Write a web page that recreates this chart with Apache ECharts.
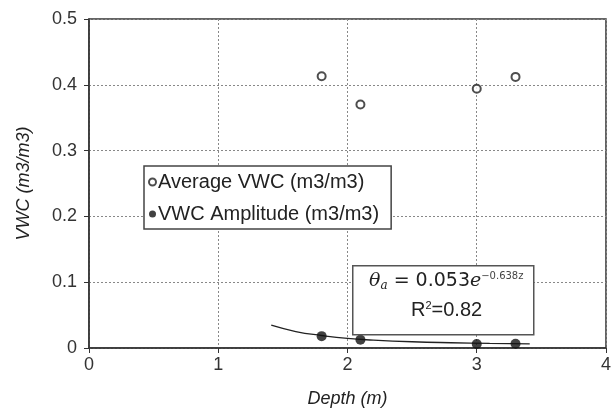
<!DOCTYPE html>
<html>
<head>
<meta charset="utf-8">
<script src="https://cdn.jsdelivr.net/npm/echarts@6/dist/echarts.min.js"></script>
<style>
  html, body { margin: 0; padding: 0; background: #fff; }
  #chart { width: 614px; height: 413px; }
</style>
</head>
<body>
<div id="chart"></div>
<script>
// Depth (m) of each sensor
const depths = [1.8, 2.1, 3.0, 3.3];
// Average volumetric water content (m3/m3)
const avgVWC = [0.413, 0.370, 0.394, 0.412];
// Amplitude of volumetric water content (m3/m3)
const ampVWC = [0.018, 0.0125, 0.006, 0.0065];
// Exponential fit curve through the amplitudes
const fitDepths = [1.41, 1.6, 1.8, 2.0, 2.2, 2.5, 2.8, 3.1, 3.41];
const fitValues = [0.0346, 0.025, 0.019, 0.0145, 0.012, 0.0095, 0.008, 0.007, 0.0063];
// Axis ticks
const xTicks = [0, 1, 2, 3, 4];
const yTicks = [0, 0.1, 0.2, 0.3, 0.4, 0.5];

const font = 'Liberation Sans, Arial, sans-serif';
const pair = (xs, ys) => xs.map((x, i) => [x, ys[i]]);

const chart = echarts.init(document.getElementById('chart'), null, { renderer: 'canvas' });
chart.setOption({
  animation: false,
  backgroundColor: '#fff',
  grid: {
    left: 89, top: 19, width: 518, height: 332,
    show: true, borderColor: '#333', borderWidth: 1.5, backgroundColor: 'transparent'
  },
  xAxis: {
    type: 'value', min: xTicks[0], max: xTicks[xTicks.length - 1], interval: 1,
    name: 'Depth (m)', nameLocation: 'middle', nameGap: 42,
    nameTextStyle: { fontFamily: font, fontSize: 18, fontStyle: 'italic', color: '#222' },
    axisLine: { lineStyle: { color: '#333', width: 1.5 } },
    axisTick: { show: true, length: 5, lineStyle: { color: '#333' } },
    axisLabel: { fontFamily: font, fontSize: 18, color: '#333', margin: 8 },
    splitLine: { show: true, lineStyle: { color: '#888', type: [2, 2], width: 1 } }
  },
  yAxis: {
    type: 'value', min: yTicks[0], max: yTicks[yTicks.length - 1], interval: 0.1,
    name: 'VWC (m3/m3)', nameLocation: 'middle', nameGap: 56,
    nameTextStyle: { fontFamily: font, fontSize: 18, fontStyle: 'italic', color: '#222' },
    axisLine: { lineStyle: { color: '#333', width: 1.5 } },
    axisTick: { show: true, length: 5, lineStyle: { color: '#333' } },
    axisLabel: { fontFamily: font, fontSize: 18, color: '#333', margin: 12,
      formatter: v => String(Math.round(v * 10) / 10) },
    splitLine: { show: true, lineStyle: { color: '#888', type: [2, 2], width: 1 } }
  },
  legend: {
    orient: 'vertical', left: 144, top: 166,
    data: ['Average VWC (m3/m3)', 'VWC Amplitude (m3/m3)'],
    backgroundColor: '#fff',
    borderColor: '#444', borderWidth: 1.5, padding: [6, 12, 5, 4],
    itemWidth: 7, itemHeight: 7, itemGap: 12, icon: 'circle',
    textStyle: { fontFamily: font, fontSize: 20, color: '#222', padding: [0, 0, 0, -3] }
  },
  series: [
    {
      name: 'Fit', type: 'line', data: pair(fitDepths, fitValues), smooth: true,
      showSymbol: false, lineStyle: { color: '#222', width: 1.3 }, z: 2, silent: true
    },
    {
      name: 'Average VWC (m3/m3)', type: 'scatter', data: pair(depths, avgVWC),
      symbol: 'circle', symbolSize: 8,
      itemStyle: { color: '#fff', borderColor: '#222', borderWidth: 2 }, z: 3
    },
    {
      name: 'VWC Amplitude (m3/m3)', type: 'scatter', data: pair(depths, ampVWC),
      symbol: 'circle', symbolSize: 10,
      itemStyle: { color: '#111' }, z: 3
    }
  ],
  graphic: [
    {
      type: 'rect', left: 352, top: 265, z: 10,
      shape: { width: 181, height: 69 },
      style: { fill: '#fff', stroke: '#555', lineWidth: 1.5 }
    },
    {
      type: 'text', left: 369, top: 271, z: 11,
      style: {
        rich: {
          th: { fontFamily: 'DejaVu Serif, serif', fontStyle: 'italic', fontSize: 19, fill: '#222' },
          sub: { fontFamily: 'DejaVu Serif, serif', fontStyle: 'italic', fontSize: 12, fill: '#222', verticalAlign: 'bottom', padding: [9, 0, 0, 0] },
          n: { fontFamily: 'DejaVu Sans, sans-serif', fontSize: 19, fill: '#222' },
          e: { fontFamily: 'DejaVu Serif, serif', fontStyle: 'italic', fontSize: 19, fill: '#222' },
          sup: { fontFamily: 'DejaVu Sans, sans-serif', fontSize: 10, fill: '#444', verticalAlign: 'top', padding: [0, 0, 11, 0] }
        },
        text: '{th|θ}{sub|a}{n| = 0.053}{e|e}{sup|−0.638z}'
      }
    },
    {
      type: 'text', left: 411, top: 300, z: 11,
      style: {
        rich: {
          r: { fontFamily: font, fontSize: 20, fill: '#222' },
          s: { fontFamily: font, fontSize: 11, fill: '#222', verticalAlign: 'top', padding: [0, 0, 9, 0] }
        },
        text: '{r|R}{s|2}{r|=0.82}'
      }
    }
  ]
});
</script>
</body>
</html>
